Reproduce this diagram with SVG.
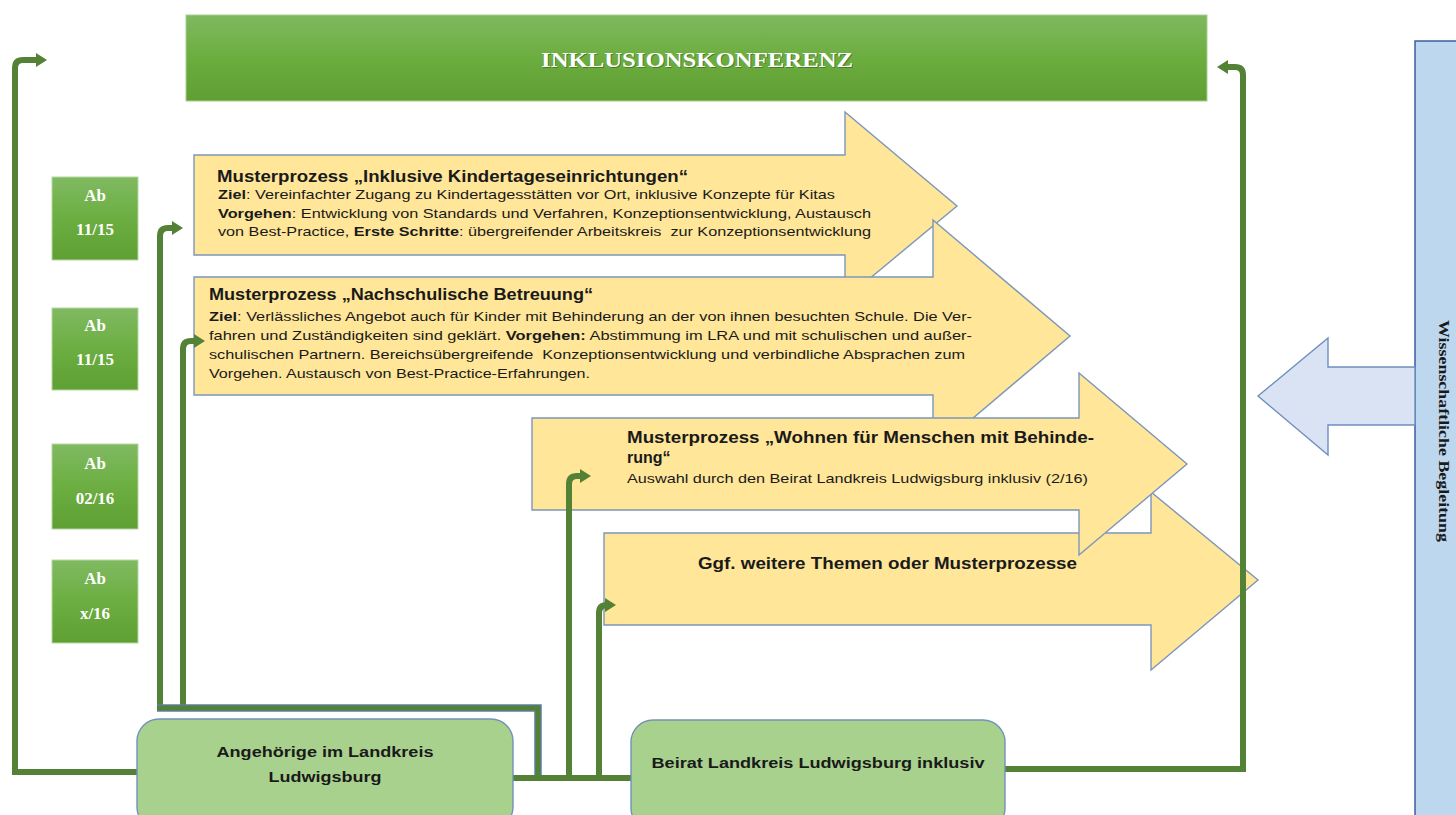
<svg xmlns="http://www.w3.org/2000/svg" width="1456" height="815" viewBox="0 0 1456 815">
<defs>
<linearGradient id="gTitle" x1="0" y1="0" x2="0" y2="1">
<stop offset="0" stop-color="#7fb960"/><stop offset="0.5" stop-color="#6cad3f"/><stop offset="1" stop-color="#5f9e33"/>
</linearGradient>
<linearGradient id="gAb" x1="0" y1="0" x2="0" y2="1">
<stop offset="0" stop-color="#80ba62"/><stop offset="0.5" stop-color="#6cae41"/><stop offset="1" stop-color="#5f9f34"/>
</linearGradient>
<style>
.arr{fill:#ffe699;stroke:#7c97b9;stroke-width:1.4}
.box{fill:#a9d18e;stroke:#7391bb;stroke-width:1.4}
.ab{fill:url(#gAb);stroke:#b5d7a0;stroke-width:1}
.abt{font-family:"Liberation Serif",serif;font-weight:bold;font-size:17px;fill:#ffffff;text-anchor:middle}
.con{fill:none;stroke:#538135;stroke-width:6}
.head{fill:#538135}
.t{font-family:"Liberation Sans",Arial,sans-serif;fill:#1a1a1a}
.tt{font-size:16px;font-weight:bold}
.tb{font-size:13px}
.b{font-weight:bold}
.nb{font-family:"Liberation Sans",Arial,sans-serif;font-weight:bold;font-size:14.5px;fill:#1a1a1a;text-anchor:middle}
</style>
</defs>
<rect width="1456" height="815" fill="#ffffff"/>

<g id="inklusionskonferenz">
<rect x="186" y="15" width="1021" height="86" fill="url(#gTitle)" stroke="#a9cf90" stroke-width="1"/>
<text x="698" y="68" font-family="Liberation Serif,serif" font-weight="bold" font-size="20" fill="#2f4a1a" fill-opacity="0.5" text-anchor="middle" textLength="312" lengthAdjust="spacingAndGlyphs">INKLUSIONSKONFERENZ</text>
<text x="697" y="67" font-family="Liberation Serif,serif" font-weight="bold" font-size="20" fill="#ffffff" text-anchor="middle" textLength="312" lengthAdjust="spacingAndGlyphs">INKLUSIONSKONFERENZ</text>
</g>

<g id="ab1"><rect class="ab" x="52" y="177" width="86" height="83"/><text class="abt" x="95" y="201">Ab</text><text class="abt" x="95" y="235">11/15</text></g>
<g id="ab2"><rect class="ab" x="52" y="308" width="86" height="82"/><text class="abt" x="95" y="331">Ab</text><text class="abt" x="95" y="365">11/15</text></g>
<g id="ab3"><rect class="ab" x="52" y="444" width="86" height="85"/><text class="abt" x="95" y="469">Ab</text><text class="abt" x="95" y="504">02/16</text></g>
<g id="ab4"><rect class="ab" x="52" y="560" width="86" height="83"/><text class="abt" x="95" y="584">Ab</text><text class="abt" x="95" y="619">x/16</text></g>

<g id="arrow-kita">
<polygon class="arr" points="194,155 845,155 845,112 957,206 845,299 845,255 194,255"/>
<text class="t tt" x="217" y="182" textLength="471" lengthAdjust="spacingAndGlyphs">Musterprozess „Inklusive Kindertageseinrichtungen“</text>
<text class="t tb" x="218" y="199" textLength="617" lengthAdjust="spacingAndGlyphs"><tspan class="b">Ziel</tspan>: Vereinfachter Zugang zu Kindertagesstätten vor Ort, inklusive Konzepte für Kitas</text>
<text class="t tb" x="218" y="218" textLength="653" lengthAdjust="spacingAndGlyphs"><tspan class="b">Vorgehen</tspan>: Entwicklung von Standards und Verfahren, Konzeptionsentwicklung, Austausch</text>
<text class="t tb" x="218" y="236" textLength="653" lengthAdjust="spacingAndGlyphs" xml:space="preserve">von Best-Practice, <tspan class="b">Erste Schritte</tspan>: übergreifender Arbeitskreis  zur Konzeptionsentwicklung</text>
</g>

<g id="arrow-nachschulisch">
<polygon class="arr" points="194,277 933,277 933,220 1070,336 933,452 933,395 194,395"/>
<text class="t tt" x="209" y="300" textLength="384" lengthAdjust="spacingAndGlyphs">Musterprozess „Nachschulische Betreuung“</text>
<text class="t tb" x="209" y="321" textLength="763" lengthAdjust="spacingAndGlyphs"><tspan class="b">Ziel</tspan>: Verlässliches Angebot auch für Kinder mit Behinderung an der von ihnen besuchten Schule. Die Ver-</text>
<text class="t tb" x="209" y="340" textLength="763" lengthAdjust="spacingAndGlyphs">fahren und Zuständigkeiten sind geklärt. <tspan class="b">Vorgehen:</tspan> Abstimmung im LRA und mit schulischen und außer-</text>
<text class="t tb" x="209" y="359" textLength="756" lengthAdjust="spacingAndGlyphs" xml:space="preserve">schulischen Partnern. Bereichsübergreifende  Konzeptionsentwicklung und verbindliche Absprachen zum</text>
<text class="t tb" x="209" y="378" textLength="381" lengthAdjust="spacingAndGlyphs">Vorgehen. Austausch von Best-Practice-Erfahrungen.</text>
</g>

<g id="arrow-weitere">
<polygon class="arr" points="604,533 1151,533 1151,492 1258,580 1151,670 1151,625 604,625"/>
<text class="t tt" x="698" y="569" textLength="379" lengthAdjust="spacingAndGlyphs">Ggf. weitere Themen oder Musterprozesse</text>
</g>

<g id="arrow-wohnen">
<polygon class="arr" points="532,418 1079,418 1079,373 1187,464 1079,555 1079,510 532,510"/>
<text class="t tt" x="627" y="443" textLength="467" lengthAdjust="spacingAndGlyphs">Musterprozess „Wohnen für Menschen mit Behinde-</text>
<text class="t tt" x="627" y="463">rung“</text>
<text class="t tb" x="627" y="483" textLength="461" lengthAdjust="spacingAndGlyphs">Auswahl durch den Beirat Landkreis Ludwigsburg inklusiv (2/16)</text>
</g>

<g id="wissenschaft">
<rect x="1415" y="41" width="50" height="790" fill="#bdd7ee" stroke="#2f5597" stroke-width="1.4"/>
<polygon points="1415,367 1328,367 1328,338 1258,396 1328,455 1328,425 1415,425" fill="#dae3f3" stroke="#6d8fbd" stroke-width="1.4"/>
<text transform="translate(1439,431) rotate(90)" font-family="Liberation Serif,serif" font-weight="bold" font-size="15" fill="#1a1a1a" text-anchor="middle" textLength="222" lengthAdjust="spacingAndGlyphs">Wissenschaftliche Begleitung</text>
</g>

<g id="connectors">
<path class="con" d="M138,772 H15 V68 Q15,60 23,60 H37"/>
<polygon class="head" points="36,53 47,60 36,67"/>
<path class="con" d="M160,711 V236 Q160,228 168,228 H173"/>
<polygon class="head" points="172,221 183,228 172,235"/>
<path class="con" d="M183,708 V349 Q183,341 191,341 H195"/>
<polygon class="head" points="194,334 205,341 194,348"/>
<path d="M157,708 H538 V781" fill="none" stroke="#5f7fb0" stroke-width="7.5"/>
<path d="M157,708 H538 V781" fill="none" stroke="#538135" stroke-width="5"/>
<path class="con" d="M513,778 H631"/>
<path class="con" d="M569,778 V484 Q569,476 577,476 H581"/>
<polygon class="head" points="580,469 591,476 580,483"/>
<path class="con" d="M599,778 V613 Q599,605 607,605 H606"/>
<polygon class="head" points="605,598 616,605 605,612"/>
<path class="con" d="M1005,769 H1243 V75 Q1243,67 1235,67 H1227"/>
<polygon class="head" points="1228,60 1217,67 1228,74"/>
</g>

<g id="angehoerige">
<rect class="box" x="137" y="719" width="376" height="110" rx="22"/>
<text class="nb" x="325" y="757" textLength="217" lengthAdjust="spacingAndGlyphs">Angehörige im Landkreis</text>
<text class="nb" x="325" y="782" textLength="113" lengthAdjust="spacingAndGlyphs">Ludwigsburg</text>
</g>

<g id="beirat">
<rect class="box" x="631" y="720" width="374" height="110" rx="22"/>
<text class="nb" x="818" y="768" textLength="333" lengthAdjust="spacingAndGlyphs">Beirat Landkreis Ludwigsburg inklusiv</text>
</g>
</svg>
